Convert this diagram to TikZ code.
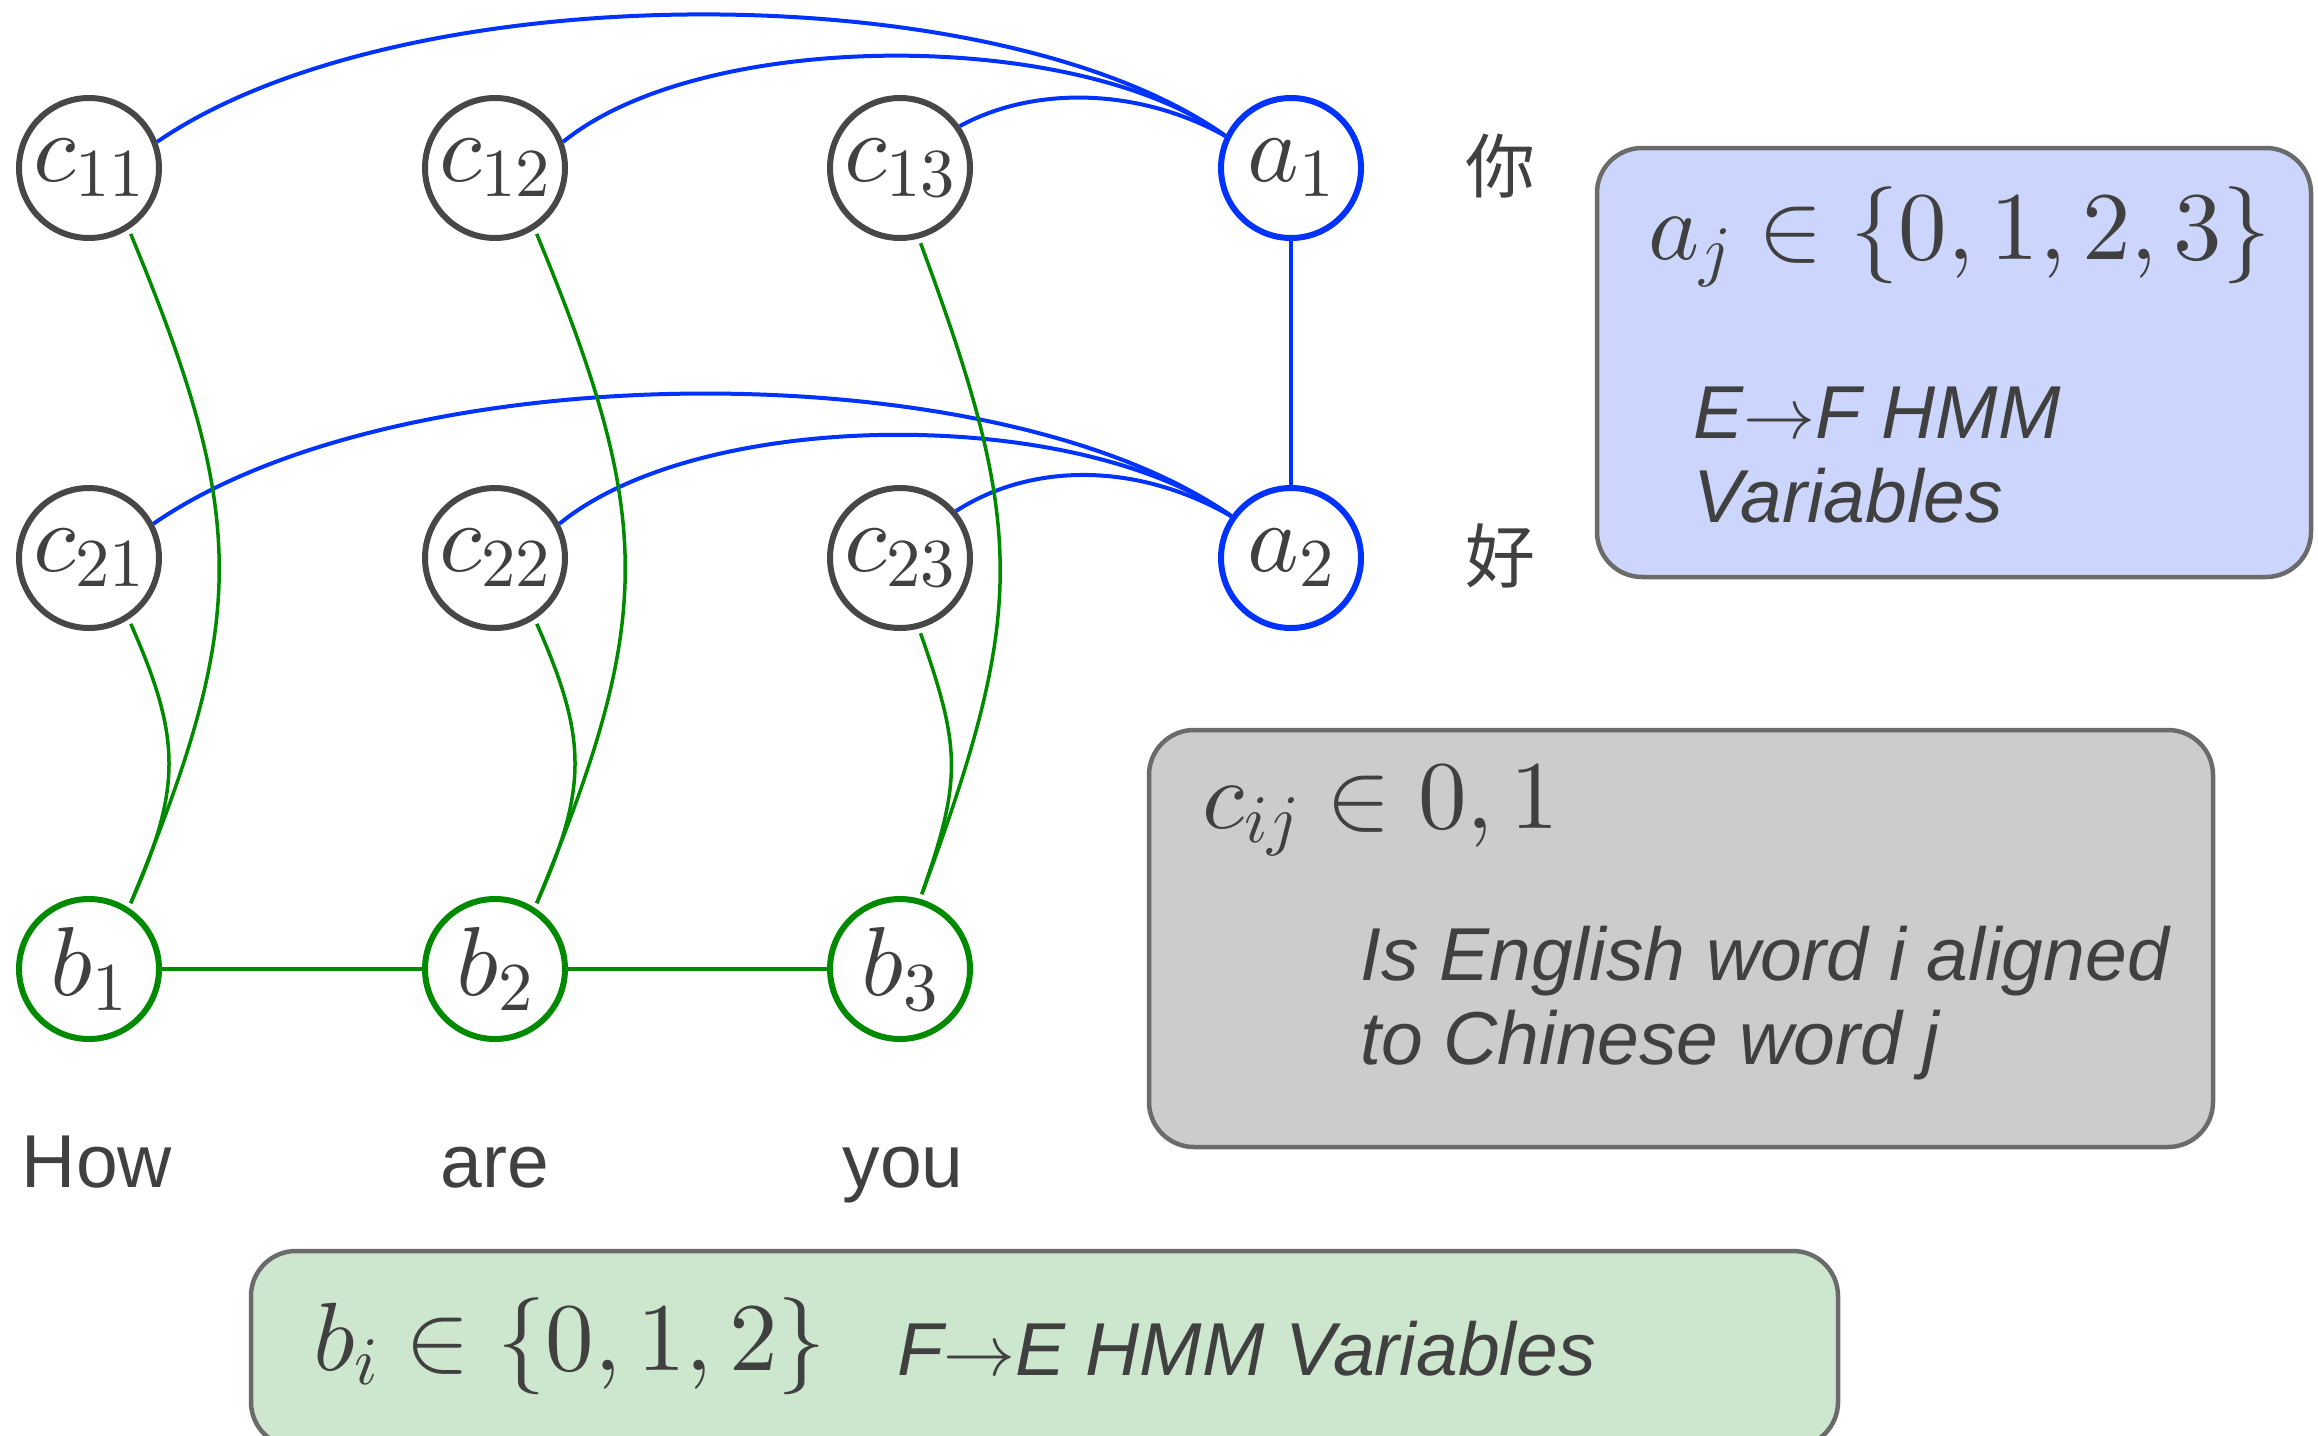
\documentclass[tikz,border=0pt]{standalone}
\usepackage{fontspec}
\DeclareFontFamily{OT1}{cmr}{\hyphenchar\font45 }
\DeclareFontShape{OT1}{cmr}{m}{n}{<->cmr10}{}
\DeclareFontFamily{OML}{cmm}{\skewchar\font127 }
\DeclareFontShape{OML}{cmm}{m}{it}{<->cmmi10}{}
\DeclareFontFamily{OMS}{cmsy}{\skewchar\font48 }
\DeclareFontShape{OMS}{cmsy}{m}{n}{<->cmsy10}{}
\DeclareFontFamily{OMX}{cmex}{}
\DeclareFontShape{OMX}{cmex}{m}{n}{<->cmex10}{}
\newfontfamily\sansfnt{Liberation Sans}
\newfontfamily\cjk{Noto Sans CJK SC}
\newcommand\rarr{{\fontsize{72}{80}\selectfont$\rightarrow$}}
\definecolor{txt}{HTML}{404040}
\definecolor{cgray}{HTML}{474747}
\definecolor{ablue}{HTML}{0033FF}
\definecolor{bgreen}{HTML}{008A00}
\definecolor{boxline}{HTML}{6B6B6B}
\definecolor{bluefill}{HTML}{CCD6FC}
\definecolor{grayfill}{HTML}{CCCCCC}
\definecolor{greenfill}{HTML}{CCE7CD}
\tikzset{
  var/.style={circle, minimum size=140, inner sep=0, line width=6, fill=white, text=txt, font=\fontsize{98}{116}\selectfont},
  cvar/.style={var, draw=cgray},
  avar/.style={var, draw=ablue},
  bvar/.style={var, draw=bgreen},
  bline/.style={draw=ablue, line width=4},
  gline/.style={draw=bgreen, line width=3.5},
  gcurve/.style={gline, shorten <=5, shorten >=5},
  infobox/.style={rectangle, rounded corners=45, draw=boxline, line width=4.5, inner sep=0},
  mathtxt/.style={inner sep=0, anchor=base west, text=txt, font=\fontsize{97}{116}\selectfont},
  itxt/.style={inner sep=0, anchor=base west, text=txt, font=\sansfnt\itshape\fontsize{75}{90}\selectfont},
  word/.style={inner sep=0, anchor=base, text=txt, font=\sansfnt\fontsize{75}{90}\selectfont},
  hanzi/.style={inner sep=0, text=txt, font=\cjk\fontsize{70}{84}\selectfont}
}
\begin{document}
\begin{tikzpicture}[x=1pt,y=-1pt]
\useasboundingbox (0,0) rectangle (2318,1435);

% info boxes
\node[infobox, fill=bluefill, minimum width=714, minimum height=429] (boxa) at (1954,362.5) {};
\node[infobox, fill=grayfill, minimum width=1064, minimum height=417] (boxc) at (1681,938.5) {};
\node[infobox, fill=greenfill, minimum width=1587, minimum height=196] (boxb) at (1044.5,1349) {};

\coordinate (pc11) at (89,168);
\coordinate (pc12) at (495,168);
\coordinate (pc13) at (900,168);
\coordinate (pa1) at (1291,168);
\coordinate (pc21) at (89,558);
\coordinate (pc22) at (495,558);
\coordinate (pc23) at (900,558);
\coordinate (pa2) at (1291,558);
\coordinate (pb1) at (89,969);
\coordinate (pb2) at (495,969);
\coordinate (pb3) at (900,969);

\node[cvar] (c11) at (pc11) {$c_{11}$};
\node[cvar] (c12) at (pc12) {$c_{12}$};
\node[cvar] (c13) at (pc13) {$c_{13}$};
\node[avar] (a1) at (pa1) {$a_1$};
\node[cvar] (c21) at (pc21) {$c_{21}$};
\node[cvar] (c22) at (pc22) {$c_{22}$};
\node[cvar] (c23) at (pc23) {$c_{23}$};
\node[avar] (a2) at (pa2) {$a_2$};
\node[bvar] (b1) at (pb1) {$b_1$};
\node[bvar] (b2) at (pb2) {$b_2$};
\node[bvar] (b3) at (pb3) {$b_3$};

% blue connectors to a1
\draw[bline] (c11.21) .. controls +(246,-169) and +(-228,-163) .. (a1.154);
\draw[bline] (c12.21) .. controls +(140,-114) and +(-148,-108) .. (a1.154);
\draw[bline] (c13.35) .. controls +(73,-40) and +(-88,-49) .. (a1.154);
% blue connectors to a2
\draw[bline] (c21.28) .. controls +(249,-172) and +(-234,-165) .. (a2.145);
\draw[bline] (c22.28) .. controls +(143,-117) and +(-154,-110) .. (a2.145);
\draw[bline] (c23.40) .. controls +(76,-49) and +(-94,-54) .. (a2.145);
\draw[bline] (a1) -- (a2);

% green connectors
\draw[gcurve] (c11.-57) .. controls +(120,290) and +(120,-290) .. (b1.57);
\draw[gcurve] (c21.-57) .. controls +(53,120) and +(53,-120) .. (b1.57);
\draw[gcurve] (c12.-57) .. controls +(120,290) and +(120,-290) .. (b2.57);
\draw[gcurve] (c22.-57) .. controls +(53,120) and +(53,-120) .. (b2.57);
\draw[gcurve] (c13.-75) .. controls +(107,290) and +(107,-290) .. (b3.74);
\draw[gcurve] (c23.-75) .. controls +(42,120) and +(42,-120) .. (b3.74);
\draw[gline, line width=4.5] (b1) -- (b2);
\draw[gline, line width=4.5] (b2) -- (b3);

% words
\node[word] (how) at (97,1187) {How};
\node[word] (are) at (495,1187) {are};
\node[word] (you) at (903,1187) {you};
\node[hanzi] (ni) at (1500,166) {你};
\node[hanzi] (hao) at (1500,556) {好};

% box texts
\node[mathtxt] (ta) at (1648,259) {$a_j \in \{0,1,2,3\}$};
\node[itxt] (ta1) at (1693,438) {E\rarr F HMM};
\node[itxt] (ta2) at (1693,522) {Variables};
\node[mathtxt] (tc) at (1202,828) {$c_{ij} \in 0,1$};
\node[itxt] (tc1) at (1360,980) {Is English word i aligned};
\node[itxt] (tc2) at (1360,1064) {to Chinese word j};
\node[mathtxt] (tb) at (313,1370) {$b_i \in \{0,1,2\}$};
\node[itxt] (tb1) at (897,1375) {F\rarr E HMM Variables};
\end{tikzpicture}
\end{document}
